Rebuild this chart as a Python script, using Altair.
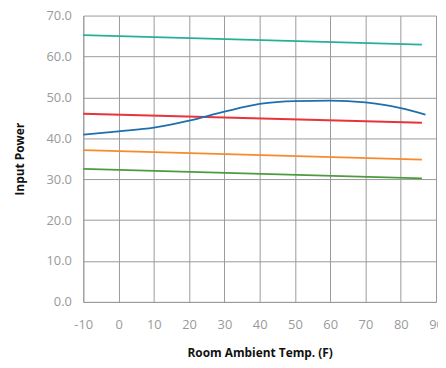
import altair as alt
import pandas as pd

temps_lin = [-10, 86]
teal = [65.2, 62.9]
red = [46.0, 43.8]
orange = [37.1, 34.8]
green = [32.5, 30.2]

temps_blue = [-10, 0, 10, 20, 30, 40, 50, 60, 70, 80, 87]
blue = [40.9, 41.7, 42.6, 44.3, 46.5, 48.4, 49.1, 49.2, 48.8, 47.4, 45.8]

series = ["Teal", "Red", "Orange", "Green", "Blue"]
colors = ["#26b09a", "#e8333a", "#f78b2b", "#4c9b3e", "#1f6fae"]

rows = []
for name, vals in zip(series[:4], [teal, red, orange, green]):
    for t, v in zip(temps_lin, vals):
        rows.append({"series": name, "temp": t, "power": v})
for t, v in zip(temps_blue, blue):
    rows.append({"series": "Blue", "temp": t, "power": v})
df = pd.DataFrame(rows)

font = "Open Sans"

chart = alt.Chart(df).mark_line(strokeWidth=1.8, interpolate="monotone").encode(
    x=alt.X("temp:Q",
            scale=alt.Scale(domain=[-10, 90], nice=False, zero=False),
            axis=alt.Axis(values=list(range(-10, 91, 10)), title="Room Ambient Temp. (F)",
                          labelExpr="'' + datum.value", labelFlush=False,
                          labelPadding=17, titlePadding=16)),
    y=alt.Y("power:Q",
            scale=alt.Scale(domain=[0, 70], nice=False),
            axis=alt.Axis(values=list(range(0, 71, 10)), title="Input Power",
                          format=".1f", labelPadding=12, titlePadding=20)),
    color=alt.Color("series:N", scale=alt.Scale(domain=series, range=colors), legend=None),
    detail="series:N",
).properties(
    width=356, height=289,
    autosize=alt.AutoSizeParams(type="none"),
    padding={"left": 76, "top": 6, "right": 2, "bottom": 60},
).configure_view(stroke=None).configure_axis(
    grid=True, gridColor="#9a9a9a", gridWidth=1, gridOpacity=1,
    domainColor="#9a9a9a", domainWidth=1,
    ticks=False,
    labelFont=font, labelFontSize=13, labelColor="#9a9a9a",
    titleFont=font, titleFontSize=12, titleFontWeight="bold", titleColor="#111111",
)

chart.save("out.html", embed_options={"renderer": "svg", "actions": False})
